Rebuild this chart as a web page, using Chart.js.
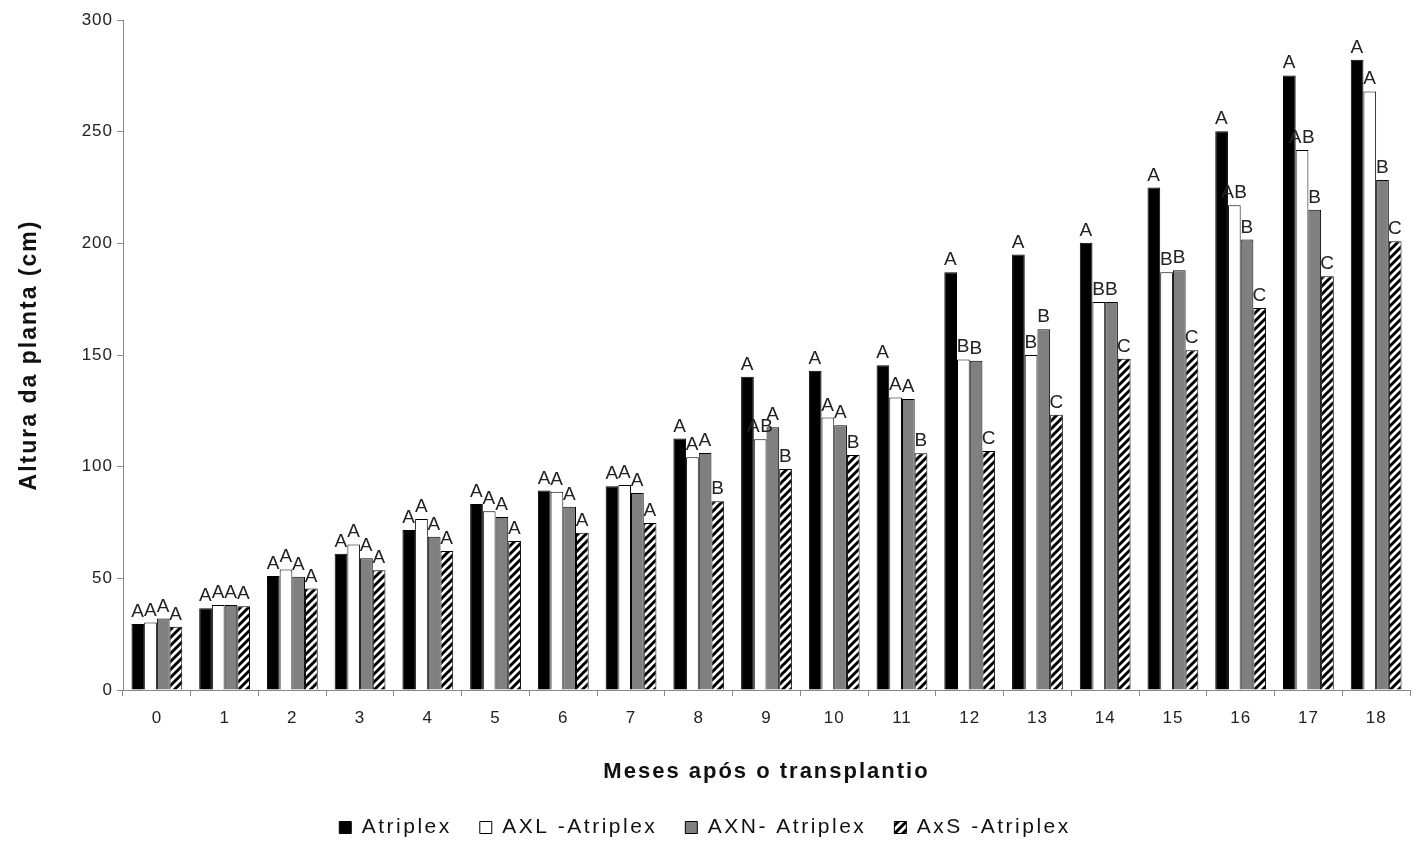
<!DOCTYPE html>
<html>
<head>
<meta charset="utf-8">
<script src="https://cdn.jsdelivr.net/npm/chart.js@4/dist/chart.umd.min.js"></script>
<style>
  body { margin: 0; background: #fff; }
  #wrap { width: 1411px; height: 843px; }
</style>
</head>
<body>
<div id="wrap"><canvas id="chart"></canvas></div>
<script>
// Plant height per month
const months = ['0', '1', '2', '3', '4', '5', '6', '7', '8', '9', '10', '11', '12', '13', '14', '15', '16', '17', '18'];
const atriplex = [29.5, 36.6, 51, 61, 71.6, 83.3, 89.3, 91.2, 112.6, 140.3, 143, 145.4, 187, 195, 200.3, 225, 250.2, 275.2, 282.2];
const axl = [30.2, 38.1, 54, 65.2, 76.6, 80, 88.8, 91.8, 104.2, 112.3, 122, 131, 148, 150, 173.7, 187.1, 217, 241.8, 268];
const axn = [32, 38.1, 50.7, 59, 68.6, 77.5, 82, 88.2, 106.1, 117.6, 118.6, 130.3, 147.4, 161.5, 173.7, 187.9, 201.7, 215, 228.4];
const axs = [28.3, 37.5, 45.4, 53.6, 62.2, 66.7, 70.4, 74.8, 84.5, 99, 105.2, 106, 107, 123.2, 148.3, 152.1, 171.1, 185.3, 200.9];

// Significance letters above each bar
const lettersAtriplex = ['A', 'A', 'A', 'A', 'A', 'A', 'A', 'A', 'A', 'A', 'A', 'A', 'A', 'A', 'A', 'A', 'A', 'A', 'A'];
const lettersAxl = ['A', 'A', 'A', 'A', 'A', 'A', 'A', 'A', 'A', 'AB', 'A', 'A', 'B', 'B', 'B', 'B', 'AB', 'AB', 'A'];
const lettersAxn = ['A', 'A', 'A', 'A', 'A', 'A', 'A', 'A', 'A', 'A', 'A', 'A', 'B', 'B', 'B', 'B', 'B', 'B', 'B'];
const lettersAxs = ['A', 'A', 'A', 'A', 'A', 'A', 'A', 'A', 'B', 'B', 'B', 'B', 'C', 'C', 'C', 'C', 'C', 'C', 'C'];

const FONT = "'Liberation Sans', Arial, sans-serif";

// diagonal "/" hatch for the AxS series
function makeHatch() {
  const size = 8;
  const c = document.createElement('canvas');
  c.width = size; c.height = size;
  const g = c.getContext('2d');
  g.fillStyle = '#fff';
  g.fillRect(0, 0, size, size);
  g.strokeStyle = '#000';
  g.lineWidth = 3;
  g.beginPath();
  g.moveTo(-2, size + 2); g.lineTo(size + 2, -2);
  g.moveTo(-2, 2); g.lineTo(2, -2);
  g.moveTo(size - 2, size + 2); g.lineTo(size + 2, size - 2);
  g.stroke();
  return g.createPattern(c, 'repeat');
}

// The source figure's text is stretched wide. Chart.js has no letter-spacing
// option, so pick one from the current font whenever text is measured or drawn.
function spacingFor(font) {
  const size = parseFloat((font.match(/([\d.]+)px/) || [0, 12])[1]);
  if (font.includes('bold')) return '2px';
  if (size >= 21) return '2.5px';
  if (size >= 19) return '0.5px';
  return '1px';
}

function patchSpacing(ctx) {
  const fill = ctx.fillText, measure = ctx.measureText;
  ctx.fillText = function (...args) { this.letterSpacing = spacingFor(this.font); return fill.apply(this, args); };
  ctx.measureText = function (...args) { this.letterSpacing = spacingFor(this.font); return measure.apply(this, args); };
}

const letterPlugin = {
  id: 'letters',
  afterDatasetsDraw(chart) {
    const ctx = chart.ctx;
    ctx.save();
    ctx.font = '19px ' + FONT;
    ctx.fillStyle = '#222';
    ctx.textAlign = 'center';
    ctx.textBaseline = 'alphabetic';
    chart.data.datasets.forEach((ds, i) => {
      const meta = chart.getDatasetMeta(i);
      meta.data.forEach((bar, j) => {
        ctx.fillText(ds.letters[j], bar.x, bar.y - 7);
      });
    });
    ctx.restore();
  }
};

const canvas = document.getElementById('chart');
patchSpacing(canvas.getContext('2d'));
const hatch = makeHatch();

new Chart(canvas, {
  type: 'bar',
  data: {
    labels: months,
    datasets: [
      { label: 'Atriplex', data: atriplex, letters: lettersAtriplex, backgroundColor: '#000', borderColor: '#000', borderWidth: 1 },
      { label: 'AXL -Atriplex', data: axl, letters: lettersAxl, backgroundColor: '#fff', borderColor: '#000', borderWidth: 1 },
      { label: 'AXN- Atriplex', data: axn, letters: lettersAxn, backgroundColor: '#808080', borderColor: '#000', borderWidth: 1 },
      { label: 'AxS -Atriplex', data: axs, letters: lettersAxs, backgroundColor: hatch, borderColor: '#000', borderWidth: 1 },
    ],
  },
  options: {
    responsive: true,
    maintainAspectRatio: false,
    animation: false,
    layout: { padding: { top: 20, right: 1, left: 0, bottom: -5 } },
    datasets: { bar: { categoryPercentage: 0.75, barPercentage: 1 } },
    scales: {
      x: {
        grid: { offset: true, drawOnChartArea: false, drawTicks: true, tickLength: 6, color: '#888' },
        border: { color: '#888' },
        ticks: { color: '#222', font: { family: FONT, size: 17 }, padding: 12 },
        title: { display: true, text: 'Meses após o transplantio', color: '#111', font: { family: FONT, size: 22, weight: 'bold' }, padding: { top: 4, bottom: 4 } },
        afterFit: s => { s.height = 99; },
      },
      y: {
        min: 0,
        max: 300,
        grid: { drawOnChartArea: false, drawTicks: true, tickLength: 6, color: '#888' },
        border: { color: '#888' },
        ticks: { stepSize: 50, color: '#222', font: { family: FONT, size: 17 }, padding: 4 },
        title: { display: true, text: 'Altura da planta (cm)', color: '#111', font: { family: FONT, size: 23, weight: 'bold' }, padding: { top: 16, bottom: 16 } },
        afterFit: s => { s.width = 123; },
      },
    },
    plugins: {
      legend: {
        position: 'bottom',
        labels: {
          color: '#111',
          font: { family: FONT, size: 21, lineHeight: 1 },
          boxWidth: 12,
          boxHeight: 12,
          padding: 28,
          useBorderRadius: false,
        },
      },
      tooltip: { enabled: false },
    },
  },
  plugins: [letterPlugin],
});
</script>
</body>
</html>
